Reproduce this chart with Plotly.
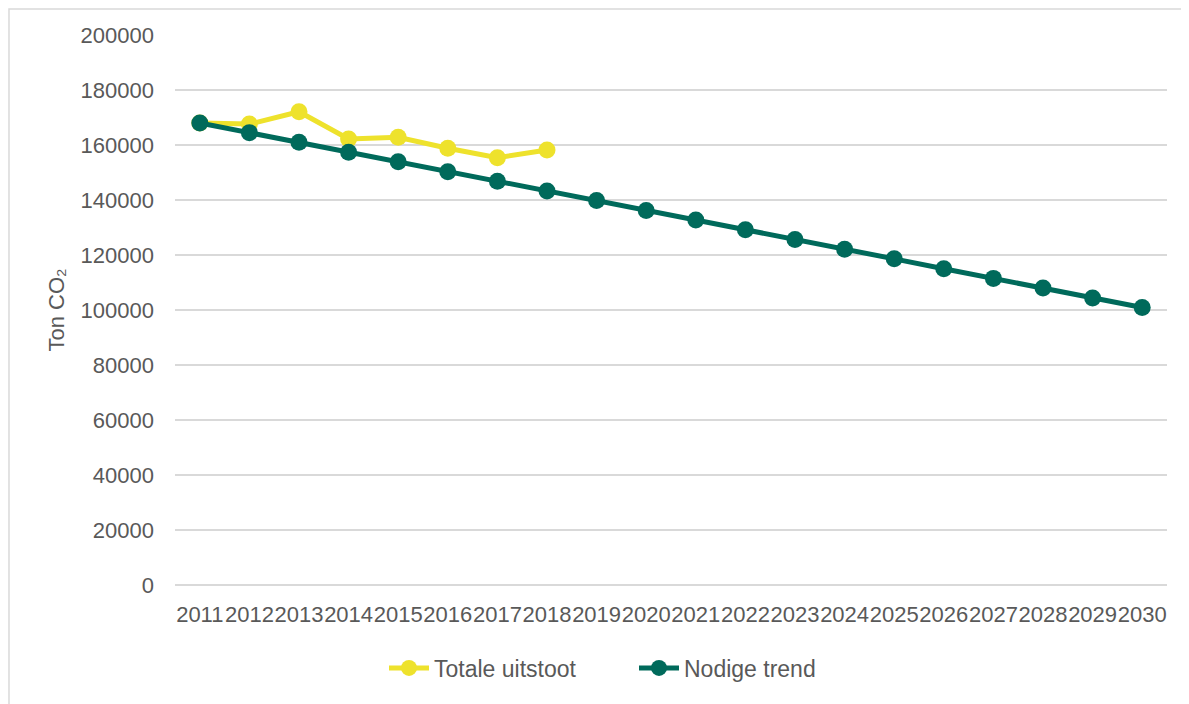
import plotly.graph_objects as go

years = [str(y) for y in range(2011, 2031)]
totale_uitstoot = [168000, 167600, 172100, 162200, 162800, 158800, 155400, 158200]
nodige_trend = [168000, 164500, 161000, 157400, 153900, 150300, 146800, 143300,
                139800, 136200, 132700, 129200, 125600, 122100, 118600, 115000,
                111500, 108000, 104400, 100900]
y_ticks = list(range(0, 200001, 20000))

YELLOW = "#EEE22C"
GREEN = "#006A5B"
TXT = "#595959"
GRID = "#D9D9D9"
FONT = "Liberation Sans"

# page body has an 8px offset; margins compensate so plot area lands at x 175-1167, y 35-585
ML, MR, MT, MB = 167, 30, 27, 127
PW, PH = 1189 - ML - MR, 704 - MT - MB

fig = go.Figure()
fig.add_trace(go.Scatter(
    x=years[:len(totale_uitstoot)], y=totale_uitstoot, name="Totale uitstoot",
    mode="lines+markers", line=dict(color=YELLOW, width=5),
    marker=dict(color=YELLOW, size=17)))
fig.add_trace(go.Scatter(
    x=years, y=nodige_trend, name="Nodige trend",
    mode="lines+markers", line=dict(color=GREEN, width=5),
    marker=dict(color=GREEN, size=17)))

fig.update_layout(
    width=1189, height=704,
    margin=dict(l=ML, r=MR, t=MT, b=MB),
    paper_bgcolor="white", plot_bgcolor="white",
    font=dict(family=FONT, color=TXT, size=22),
    showlegend=True,
    legend=dict(orientation="h", x=(384 - 175) / PW, xanchor="left",
                y=-(668 - 585) / PH, yanchor="middle",
                font=dict(family=FONT, size=23, color=TXT), itemwidth=40,
                entrywidth=195, entrywidthmode="pixels",
                traceorder="normal"),
    xaxis=dict(type="category", categoryorder="array", categoryarray=years,
               range=[-0.5, len(years) - 0.5], showgrid=False, showline=False,
               zeroline=False, tickangle=0, ticks="", tickfont=dict(size=22, color=TXT),
               ticklabelstandoff=14),
    yaxis=dict(range=[0, 200000], tickvals=y_ticks, ticktext=[str(v) for v in y_ticks],
               showgrid=True, gridcolor=GRID, gridwidth=1.5, zeroline=True,
               zerolinecolor=GRID, zerolinewidth=1.5, showline=False, ticks="",
               tickfont=dict(size=22, color=TXT), ticklabelstandoff=20,
               title=dict(text="Ton CO₂", font=dict(size=22, color=TXT), standoff=9)),
    shapes=[dict(type="rect", xref="paper", yref="paper",
                 x0=-ML / PW + 0.001, x1=(1200 - 175) / PW,
                 y0=-(720 - 585) / PH, y1=1 + (MT - 1) / PH,
                 line=dict(color=GRID, width=1.5), fillcolor="rgba(0,0,0,0)", layer="below")],
)

fig.write_html("out.html")
